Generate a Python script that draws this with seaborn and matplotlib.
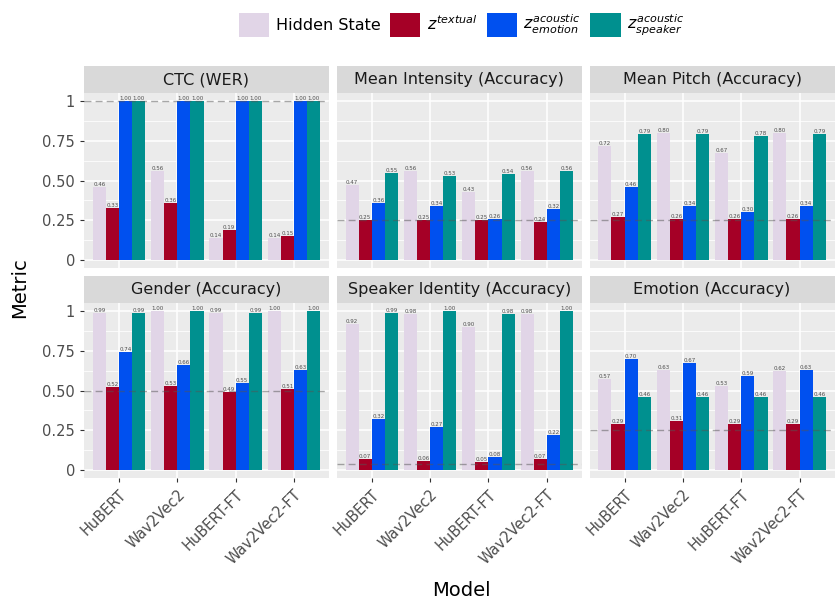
import matplotlib
matplotlib.use("Agg")
import matplotlib.pyplot as plt
from matplotlib.patches import Patch, Rectangle
from matplotlib.ticker import MultipleLocator
import pandas as pd
import seaborn as sns

models = ["HuBERT", "Wav2Vec2", "HuBERT-FT", "Wav2Vec2-FT"]
reps = ["Hidden State", "z_textual", "z_emotion", "z_speaker"]
rep_labels = ["Hidden State", r"$z^{textual}$", r"$z^{acoustic}_{emotion}$",
              r"$z^{acoustic}_{speaker}$"]
colors = ["#E1D5E7", "#A50026", "#0050EF", "#00908F"]

tasks = ["CTC (WER)", "Mean Intensity (Accuracy)", "Mean Pitch (Accuracy)",
         "Gender (Accuracy)", "Speaker Identity (Accuracy)", "Emotion (Accuracy)"]
chance = [1.0, 0.25, 0.25, 0.5, 0.04, 0.25]

# values per model, order: hidden, textual, emotion, speaker
ctc = [[0.46, 0.33, 1.00, 1.00], [0.56, 0.36, 1.00, 1.00],
       [0.14, 0.19, 1.00, 1.00], [0.14, 0.15, 1.00, 1.00]]
intensity = [[0.47, 0.25, 0.36, 0.55], [0.56, 0.25, 0.34, 0.53],
             [0.43, 0.25, 0.26, 0.54], [0.56, 0.24, 0.32, 0.56]]
pitch = [[0.72, 0.27, 0.46, 0.79], [0.80, 0.26, 0.34, 0.79],
         [0.67, 0.26, 0.30, 0.78], [0.80, 0.26, 0.34, 0.79]]
gender = [[0.99, 0.52, 0.74, 0.99], [1.00, 0.53, 0.66, 1.00],
          [0.99, 0.49, 0.55, 0.99], [1.00, 0.51, 0.63, 1.00]]
speaker = [[0.92, 0.07, 0.32, 0.99], [0.98, 0.06, 0.27, 1.00],
           [0.90, 0.05, 0.08, 0.98], [0.98, 0.07, 0.22, 1.00]]
emotion = [[0.57, 0.29, 0.70, 0.46], [0.63, 0.31, 0.67, 0.46],
           [0.53, 0.29, 0.59, 0.46], [0.62, 0.29, 0.63, 0.46]]
task_values = [ctc, intensity, pitch, gender, speaker, emotion]

rows = []
for t, vals in zip(tasks, task_values):
    for m, mv in zip(models, vals):
        for r, v in zip(reps, mv):
            rows.append({"task": t, "model": m, "rep": r, "value": v})
df = pd.DataFrame(rows)

fig, axes = plt.subplots(2, 3, figsize=(8.35, 5.99), dpi=100, sharex=True, sharey=True)
fig.subplots_adjust(left=0.1006, right=0.9995, top=0.8447, bottom=0.202,
                    wspace=0.032, hspace=0.2)

for i, (ax, t) in enumerate(zip(axes.flat, tasks)):
    sub = df[df.task == t]
    ax.set_facecolor("#EBEBEB")
    sns.barplot(data=sub, x="model", y="value", hue="rep", order=models,
                hue_order=reps, palette=colors, width=0.9, saturation=1,
                ax=ax, legend=False, zorder=2)
    for c in ax.containers:
        ax.bar_label(c, fmt="%.2f", fontsize=4, color="#4D4D4D", padding=0)
    ax.axhline(chance[i], color="#555555", alpha=0.5, lw=1.0,
               ls=(0, (5, 3)), zorder=3)
    ax.set_ylim(-0.05, 1.05)
    ax.set_xlim(-0.6, 3.6)
    ax.yaxis.set_major_locator(MultipleLocator(0.25))
    ax.yaxis.set_minor_locator(MultipleLocator(0.125))
    ax.grid(which="major", color="white", lw=1.1, zorder=0)
    ax.grid(which="minor", axis="y", color="white", lw=0.55, zorder=0)
    ax.set_axisbelow(True)
    for s in ax.spines.values():
        s.set_visible(False)
    ax.set_xlabel("")
    ax.set_ylabel("")
    ax.tick_params(which="minor", length=0)
    ax.tick_params(which="major", length=3, color="#333333",
                   labelcolor="#4D4D4D", labelsize=10.5)
    # facet strip
    ax.add_patch(Rectangle((0, 1.0), 1, 0.154, transform=ax.transAxes,
                           facecolor="#D9D9D9", edgecolor="none", clip_on=False))
    ax.text(0.5, 1.077, t, transform=ax.transAxes, ha="center", va="center",
            fontsize=11.5, color="#1A1A1A")
    if i % 3 != 0:
        ax.tick_params(axis="y", length=0)
    if i < 3:
        ax.tick_params(axis="x", length=0)

axes[0, 0].set_yticks([0, 0.25, 0.5, 0.75, 1])
axes[0, 0].set_yticklabels(["0", "0.25", "0.50", "0.75", "1"])
for ax in axes[1]:
    ax.set_xticks(range(len(models)))
    ax.set_xticklabels(models, rotation=45, ha="right", rotation_mode="anchor")

fig.text(0.553, 0.014, "Model", ha="center", va="center", fontsize=14, color="black")
fig.text(0.012, 0.52, "Metric", ha="left", va="center", rotation=90,
         fontsize=14, color="black")

handles = [Patch(facecolor=c, edgecolor="none") for c in colors]
fig.legend(handles, rep_labels, loc="center", bbox_to_anchor=(0.553, 0.957),
           ncol=4, frameon=False, fontsize=11.5, handlelength=1.9,
           handleheight=1.9, handletextpad=0.4, columnspacing=0.6)

fig.savefig("out.png", dpi=100)
